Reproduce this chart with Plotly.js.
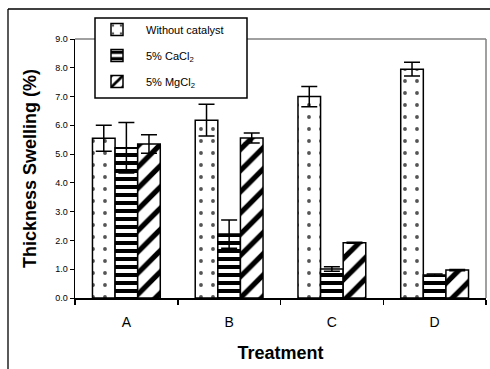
<!DOCTYPE html>
<html>
<head>
<meta charset="utf-8">
<script src="https://cdn.plot.ly/plotly-3.0.1.min.js"></script>
<style>
html,body{margin:0;padding:0;background:#fff;}
#chart{width:490px;height:369px;}
</style>
</head>
<body>
<div id="chart"></div>
<script>
var categories = ["A", "B", "C", "D"];
var seriesNames = ["Without catalyst", "5% CaCl<sub>2</sub>", "5% MgCl<sub>2</sub>"];
var withoutCatalyst = [5.55, 6.18, 7.00, 7.95];
var withoutCatalystErr = [0.45, 0.55, 0.35, 0.24];
var cacl2 = [5.22, 2.22, 1.01, 0.80];
var cacl2Err = [0.88, 0.49, 0.08, 0.03];
var mgcl2 = [5.35, 5.56, 1.92, 0.97];
var mgcl2Err = [0.32, 0.17, 0.02, 0.02];
var yTicks = [0, 1, 2, 3, 4, 5, 6, 7, 8, 9];

var FONT = "Liberation Sans, Arial, sans-serif";

function mk(name, y, err, pattern, grp) {
  return {
    type: "bar",
    name: name,
    x: categories,
    y: y,
    legendgroup: grp,
    marker: {
      color: "#ffffff",
      line: {color: "#000000", width: 1.5},
      pattern: pattern
    },
    error_y: {type: "data", array: err, visible: true, color: "#000000", thickness: 1.5, width: 8}
  };
}

var data = [
  mk(seriesNames[0], withoutCatalyst, withoutCatalystErr,
     {shape: ".", fgcolor: "#555555", bgcolor: "#ffffff", fgopacity: 1, size: 12, solidity: 0.08, fillmode: "replace"}, "g1"),
  mk(seriesNames[1], cacl2, cacl2Err,
     {shape: "-", fgcolor: "#000000", bgcolor: "#ffffff", fgopacity: 1, size: 8, solidity: 0.5, fillmode: "replace"}, "g2"),
  mk(seriesNames[2], mgcl2, mgcl2Err,
     {shape: "/", fgcolor: "#000000", bgcolor: "#ffffff", fgopacity: 1, size: 15, solidity: 0.35, fillmode: "replace"}, "g3")
];

function px(x){ return (x - 75) / 411; }
function py(y){ return (298 - y) / 259; }

var layout = {
  width: 490,
  height: 369,
  margin: {l: 75, r: 4, t: 39, b: 71, pad: 0},
  paper_bgcolor: "#ffffff",
  plot_bgcolor: "#ffffff",
  font: {family: FONT, color: "#000000"},
  barmode: "group",
  bargap: 0.34,
  bargroupgap: 0,
  showlegend: true,
  legend: {
    x: px(88), y: py(15), xanchor: "left", yanchor: "top",
    bgcolor: "rgba(0,0,0,0)", borderwidth: 0,
    font: {family: FONT, size: 11, color: "#000000"},
    itemwidth: 48, traceorder: "grouped", tracegroupgap: 7
  },
  xaxis: {
    type: "category",
    showline: true, linecolor: "#000000", linewidth: 1.5,
    ticks: "outside", tickson: "boundaries", ticklen: 5, tickwidth: 1.5, tickcolor: "#000000",
    tickfont: {family: FONT, size: 14, color: "#000000"},
    ticklabelstandoff: 11,
    showgrid: false, zeroline: false,
    title: {text: "<b>Treatment</b>", font: {family: FONT, size: 18, color: "#000000"}, standoff: 17}
  },
  yaxis: {
    range: [0, 9],
    tickvals: yTicks,
    tickformat: ".1f",
    showline: true, linecolor: "#000000", linewidth: 1.5,
    ticks: "outside", ticklen: 4, tickwidth: 1, tickcolor: "#000000",
    tickfont: {family: FONT, size: 9, color: "#000000"},
    showgrid: false, zeroline: false,
    title: {text: "<b>Thickness Swelling (%)</b>", font: {family: FONT, size: 18, color: "#000000"}, standoff: 14}
  },
  shapes: [
    {type: "line", xref: "paper", yref: "paper", x0: 0, x1: 1, y0: 1, y1: 1, line: {color: "#808080", width: 1.5}},
    {type: "line", xref: "paper", yref: "paper", x0: 1, x1: 1, y0: 0, y1: 1, line: {color: "#808080", width: 1.5}},
    {type: "rect", xref: "paper", yref: "paper", x0: px(95), x1: px(247), y0: py(18), y1: py(98),
     fillcolor: "#ffffff", line: {color: "#000000", width: 1.5}, layer: "above"},
    {type: "line", xref: "paper", yref: "paper", x0: px(8), x1: px(495), y0: py(9), y1: py(9), line: {color: "#000000", width: 1.3}},
    {type: "line", xref: "paper", yref: "paper", x0: px(8), x1: px(8), y0: py(9), y1: py(375), line: {color: "#000000", width: 1.3}}
  ]
};

Plotly.newPlot("chart", data, layout, {displayModeBar: false, staticPlot: true});
</script>
</body>
</html>
